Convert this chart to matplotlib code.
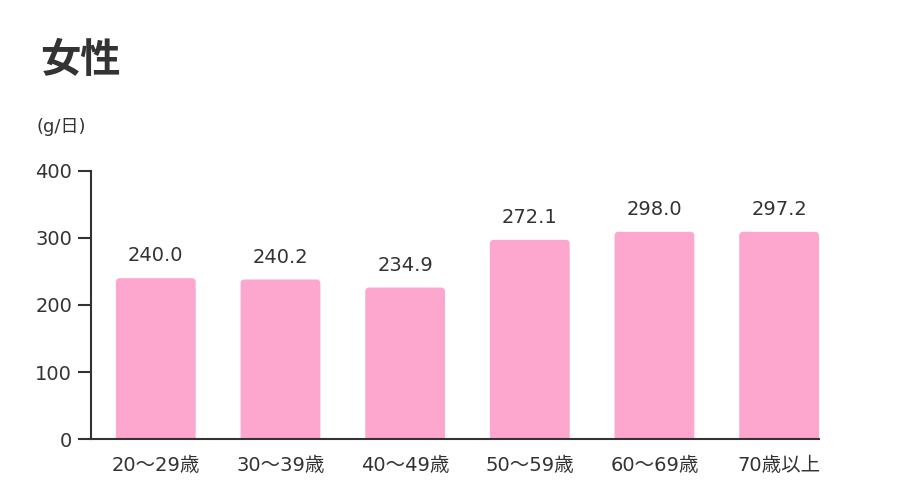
import matplotlib
matplotlib.use("Agg")
import matplotlib.pyplot as plt
from matplotlib.patches import FancyBboxPatch

plt.rcParams['font.family'] = ['DejaVu Sans', 'Noto Sans CJK JP']

# data (bar heights as drawn, labels as printed)
categories = ["20〜29歳", "30〜39歳", "40〜49歳", "50〜59歳", "60〜69歳", "70歳以上"]
bar_heights = [240, 238, 226, 297, 309, 309]
value_labels = ["240.0", "240.2", "234.9", "272.1", "298.0", "297.2"]
y_ticks = [0, 100, 200, 300, 400]

pink = "#fda7cf"
ink = "#333333"

fig = plt.figure(figsize=(9, 5), dpi=100)
ax = fig.add_axes([0.1011, 0.1214, 0.8089, 0.5372])
ax.set_xlim(-0.52, 5.32)
ax.set_ylim(0, 400)

xs = list(range(len(categories)))
bars = ax.bar(xs, bar_heights, width=0.64, color=pink)

# rounded tops: swap each bar for a rounded box that dips below the axis
fig.canvas.draw()
px_x = ax.transData.transform((1, 0))[0] - ax.transData.transform((0, 0))[0]
px_y = ax.transData.transform((0, 1))[1] - ax.transData.transform((0, 0))[1]
aspect = px_x / px_y
r = 4 / px_x
for b in bars:
    b.set_visible(False)
    box = FancyBboxPatch((b.get_x(), -10), b.get_width(), b.get_height() + 10,
                         boxstyle=f"round,pad=0,rounding_size={r}",
                         mutation_aspect=aspect, facecolor=pink, edgecolor="none")
    ax.add_patch(box)

for x, h, lab in zip(xs, bar_heights, value_labels):
    ax.annotate(lab, (x, h), xytext=(0, 16), textcoords="offset points",
                ha="center", va="center", fontsize=14, color=ink)

ax.set_xticks(xs)
ax.set_xticklabels(categories, fontsize=14, color=ink)
ax.set_yticks(y_ticks)
ax.set_yticklabels([str(t) for t in y_ticks], fontsize=14, color=ink)
ax.tick_params(axis="x", length=0, pad=12)
ax.tick_params(axis="y", length=9.5, width=1.5, color=ink, pad=4)

for side in ["top", "right"]:
    ax.spines[side].set_visible(False)
for side in ["left", "bottom"]:
    ax.spines[side].set_color(ink)
    ax.spines[side].set_linewidth(1.5)

fig.text(40 / 900, 1 - 60 / 500, "女性", family="Noto Sans CJK JP", fontsize=29,
         fontweight="bold", color=ink, va="center", ha="left")
fig.text(37 / 900, 1 - 127 / 500, "(g/日)", fontsize=13, color=ink,
         va="center", ha="left")

fig.savefig("out.png", dpi=100)
